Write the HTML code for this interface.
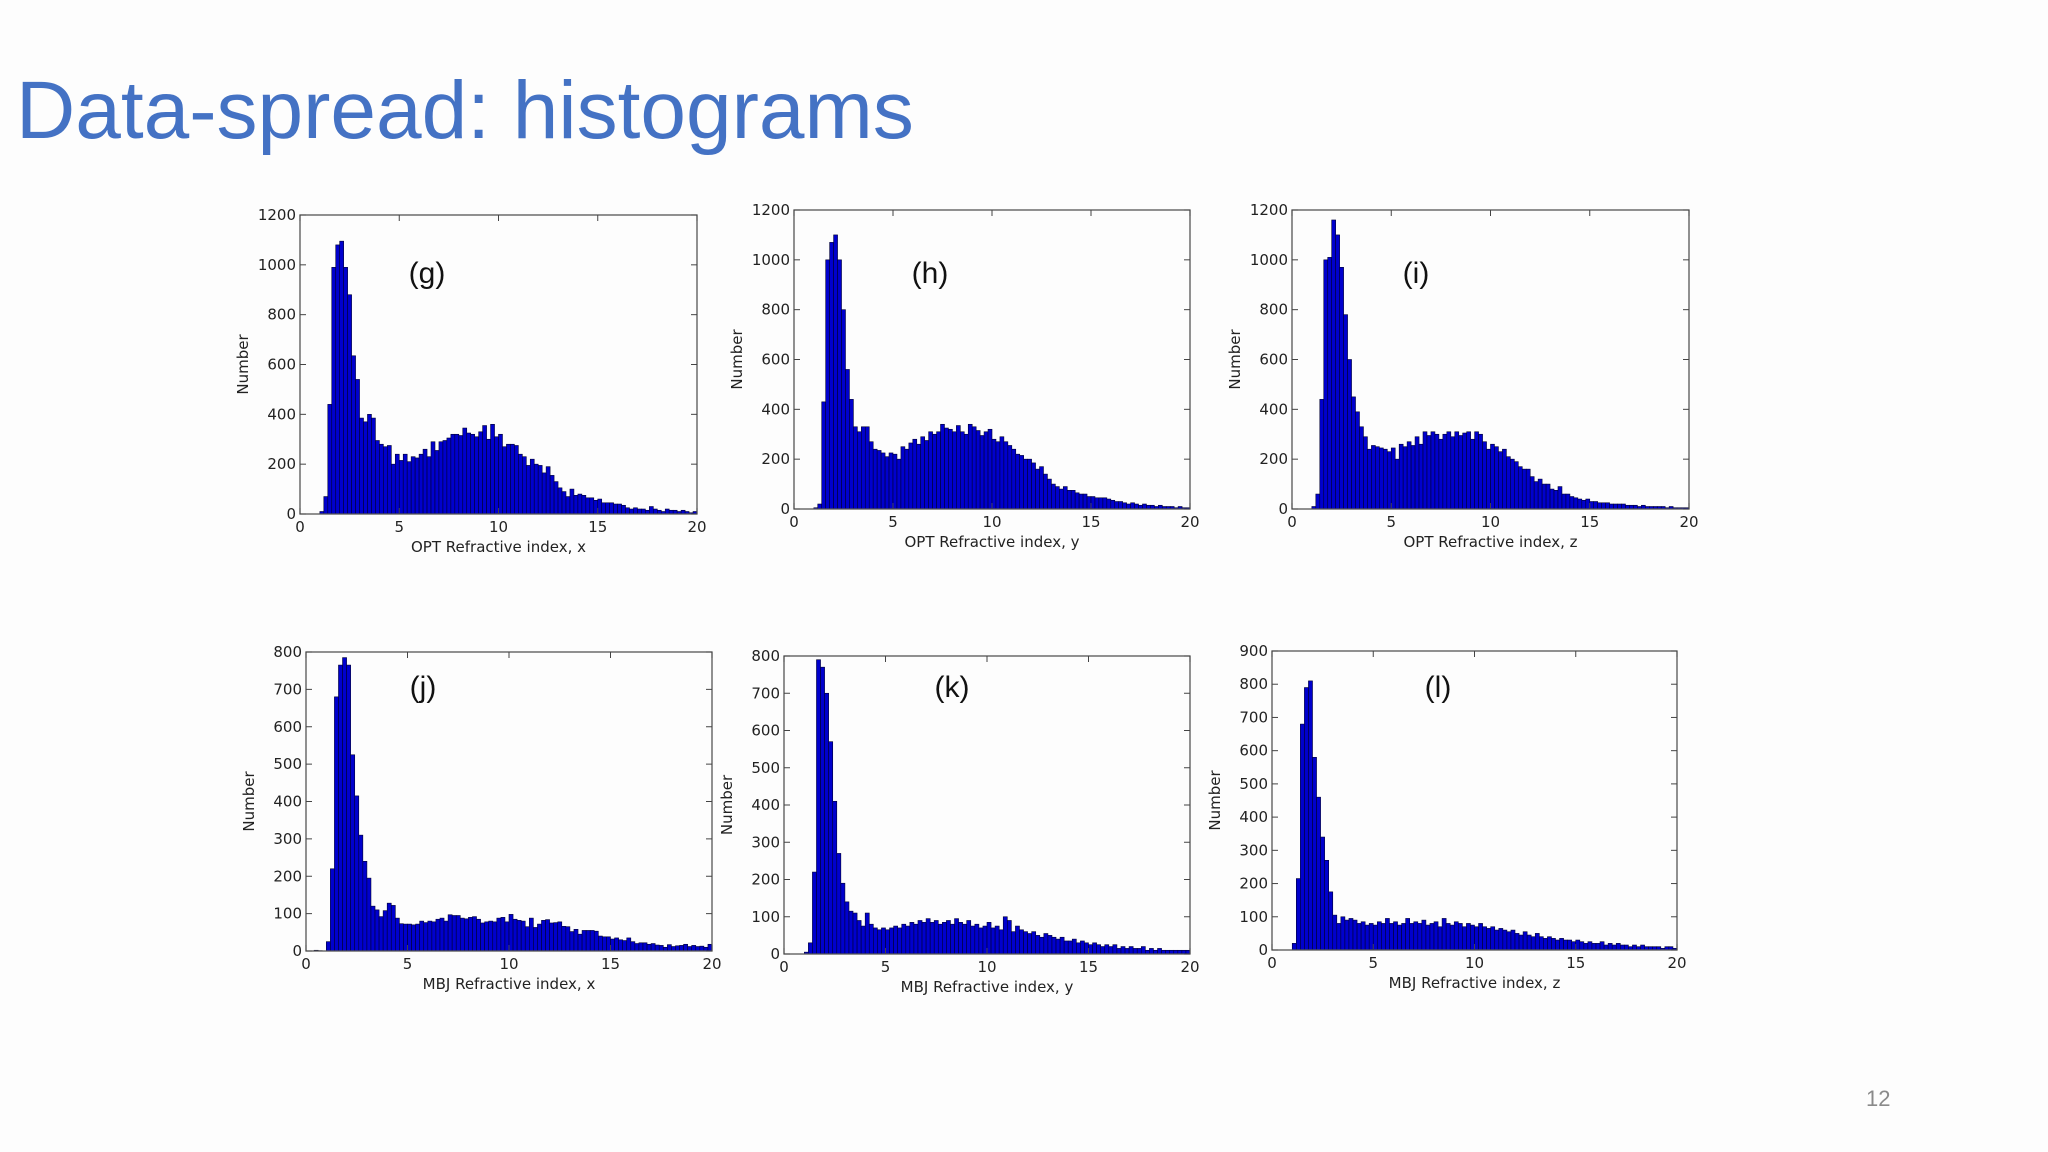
<!DOCTYPE html>
<html><head><meta charset="utf-8">
<style>
html,body{margin:0;padding:0;background:#fdfdfd;}
#slide{position:relative;width:2048px;height:1152px;overflow:hidden;background:#fdfdfd;}
#title{position:absolute;left:16px;top:64px;font-family:"Liberation Sans",sans-serif;font-size:82px;color:#4472c4;letter-spacing:0px;white-space:nowrap;}
#pnum{position:absolute;left:1866px;top:1086px;font-family:"Liberation Sans",sans-serif;font-size:22px;color:#8a8a8a;}
svg{position:absolute;left:0;top:0;}
</style></head>
<body>
<div id="slide">
<div id="title">Data-spread: histograms</div>
<div id="pnum">12</div>
<svg id="chart" width="2048" height="1152"></svg>
</div>
<script>
const binWidth = 0.2;
const xTicks = [0,5,10,15,20];
const yTicks1200 = [0,200,400,600,800,1000,1200];
const yTicks800 = [0,100,200,300,400,500,600,700,800];
const yTicks900 = [0,100,200,300,400,500,600,700,800,900];
const panelLabels = ["(g)","(h)","(i)","(j)","(k)","(l)"];
const xLabels = ["OPT Refractive index, x","OPT Refractive index, y","OPT Refractive index, z","MBJ Refractive index, x","MBJ Refractive index, y","MBJ Refractive index, z"];
const dataG = [0,0,0,0,0,10,70,440,990,1080,1095,990,880,635,540,385,370,400,385,295,280,270,275,200,240,215,240,210,230,225,240,260,230,290,255,290,295,305,320,320,315,345,325,320,310,330,355,300,360,310,320,270,280,280,275,240,230,195,220,200,195,165,190,155,130,105,90,70,100,75,80,75,65,65,55,60,45,45,45,40,40,35,25,20,25,20,20,15,30,20,15,10,20,15,15,10,15,10,5,10];
const dataH = [0,0,0,0,0,5,20,430,1000,1070,1100,1000,800,560,440,330,310,330,330,270,240,235,225,210,225,220,200,250,240,265,280,260,290,275,310,300,310,340,325,320,310,335,310,300,340,330,315,295,310,320,280,270,290,270,255,240,220,215,200,200,185,160,170,140,120,100,90,80,90,75,75,65,60,60,50,50,45,45,45,40,35,30,30,25,20,25,20,15,20,15,15,10,15,10,10,10,5,10,5,5];
const dataI = [0,0,0,0,0,10,60,440,1000,1010,1160,1100,970,780,600,450,390,330,290,240,255,250,245,240,230,245,200,260,250,270,255,290,260,310,295,310,300,280,300,310,290,310,295,305,310,280,310,300,270,240,260,250,230,240,210,200,190,170,160,160,130,110,120,100,100,80,75,90,60,60,50,45,40,35,40,30,30,25,25,25,20,20,20,20,15,15,15,10,15,10,10,10,10,10,5,10,5,5,5,5];
const dataJ = [0,0,2,1,0,25,220,680,765,785,765,525,415,310,240,195,120,110,92,108,128,122,88,73,72,72,70,72,80,76,80,78,85,88,80,97,95,95,88,86,90,92,85,75,78,80,78,88,90,78,98,85,82,80,65,88,63,72,82,84,75,76,78,66,65,52,58,45,55,55,55,53,40,38,38,32,35,30,28,35,25,20,22,22,18,20,16,15,10,17,12,14,15,18,12,15,12,13,10,18];
const dataK = [0,0,0,0,0,5,30,220,790,770,700,570,410,270,190,140,115,110,90,75,110,80,70,65,70,65,70,75,70,80,75,85,80,90,85,95,85,90,80,85,90,80,95,85,80,90,75,80,70,75,85,70,75,65,100,90,60,75,65,60,55,60,50,45,55,50,45,40,45,35,35,40,30,35,30,25,30,25,20,25,20,25,15,20,15,20,15,15,20,10,15,10,15,10,10,10,10,10,10,10];
const dataL = [0,0,0,0,0,20,215,680,790,810,580,460,340,270,175,105,80,100,90,95,90,80,85,75,80,75,85,80,95,80,85,75,80,95,80,85,80,90,75,80,85,70,95,80,75,85,80,70,80,75,70,80,70,65,70,60,65,60,55,60,50,45,55,45,40,50,40,35,40,35,30,35,30,30,25,30,25,20,25,20,20,25,15,20,15,20,15,15,10,15,10,15,10,10,10,10,5,10,10,5];

const panels = [
 {d:dataG, yt:yTicks1200, ymax:1200, l:300, r:697, t:215, b:514, lab:[427,273], id:"g"},
 {d:dataH, yt:yTicks1200, ymax:1200, l:794, r:1190, t:210, b:509, lab:[930,273], id:"h"},
 {d:dataI, yt:yTicks1200, ymax:1200, l:1292, r:1689, t:210, b:509, lab:[1416,273], id:"i"},
 {d:dataJ, yt:yTicks800, ymax:800, l:306, r:712, t:652, b:951, lab:[423,687], id:"j"},
 {d:dataK, yt:yTicks800, ymax:800, l:784, r:1190, t:656, b:954, lab:[952,687], id:"k"},
 {d:dataL, yt:yTicks900, ymax:900, l:1272, r:1677, t:651, b:950, lab:[1438,687], id:"l"}
];
const NS = "http://www.w3.org/2000/svg";
const svg = document.getElementById("chart");
function mk(tag, attrs, parent){
  const e = document.createElementNS(NS, tag);
  for (const k in attrs) e.setAttribute(k, attrs[k]);
  parent.appendChild(e);
  return e;
}
const FONT = '"DejaVu Sans","Liberation Sans",sans-serif';
panels.forEach((p, pi) => {
  const g = mk("g", {}, svg);
  
  
  const xs = v => p.l + (v / 20) * (p.r - p.l);
  const ys = v => p.b - (v / p.ymax) * (p.b - p.t);
  p.d.forEach((v, i) => {
    if (v <= 0) return;
    const x0 = xs(i * binWidth), x1 = xs((i + 1) * binWidth);
    const r = mk("rect", {x:x0, y:ys(v), width:x1 - x0, height:p.b - ys(v), fill:"#0000cd", stroke:"#000033", "stroke-width":0.6}, g);
    
    
  });
  const frame = mk("rect", {x:p.l, y:p.t, width:p.r - p.l, height:p.b - p.t, fill:"none", stroke:"#555", "stroke-width":1.3}, g);
  
  
  xTicks.forEach(t => {
    const x = xs(t);
    mk("line", {x1:x, x2:x, y1:p.b, y2:p.b - 6, stroke:"#444", "stroke-width":1}, g);
    mk("line", {x1:x, x2:x, y1:p.t, y2:p.t + 6, stroke:"#444", "stroke-width":1}, g);
    const tx = mk("text", {x:x, y:p.b + 18, "text-anchor":"middle", "font-size":15, fill:"#222", "font-family":FONT}, g);
    tx.textContent = t;
    
    
  });
  p.yt.forEach(t => {
    const y = ys(t);
    mk("line", {x1:p.l, x2:p.l + 6, y1:y, y2:y, stroke:"#444", "stroke-width":1}, g);
    mk("line", {x1:p.r, x2:p.r - 6, y1:y, y2:y, stroke:"#444", "stroke-width":1}, g);
    const ty = mk("text", {x:p.l - 4, y:y + 5, "text-anchor":"end", "font-size":15, fill:"#222", "font-family":FONT}, g);
    ty.textContent = t;
    
    
  });
  const xl = mk("text", {x:(p.l + p.r) / 2, y:p.b + 38, "text-anchor":"middle", "font-size":15, fill:"#222", "font-family":FONT}, g);
  xl.textContent = xLabels[pi];
  
  
  const yc = (p.t + p.b) / 2, yx = p.l - 52;
  const yl = mk("text", {x:yx, y:yc, "text-anchor":"middle", "font-size":15, fill:"#222", "font-family":FONT, transform:"rotate(-90 " + yx + " " + yc + ")"}, g);
  yl.textContent = "Number";
  
  
  const pl = mk("text", {x:p.lab[0], y:p.lab[1] + 10, "text-anchor":"middle", "font-size":30, fill:"#111", "font-family":'"Liberation Sans",sans-serif'}, g);
  pl.textContent = panelLabels[pi];
  
  
});
</script>
</body></html>
